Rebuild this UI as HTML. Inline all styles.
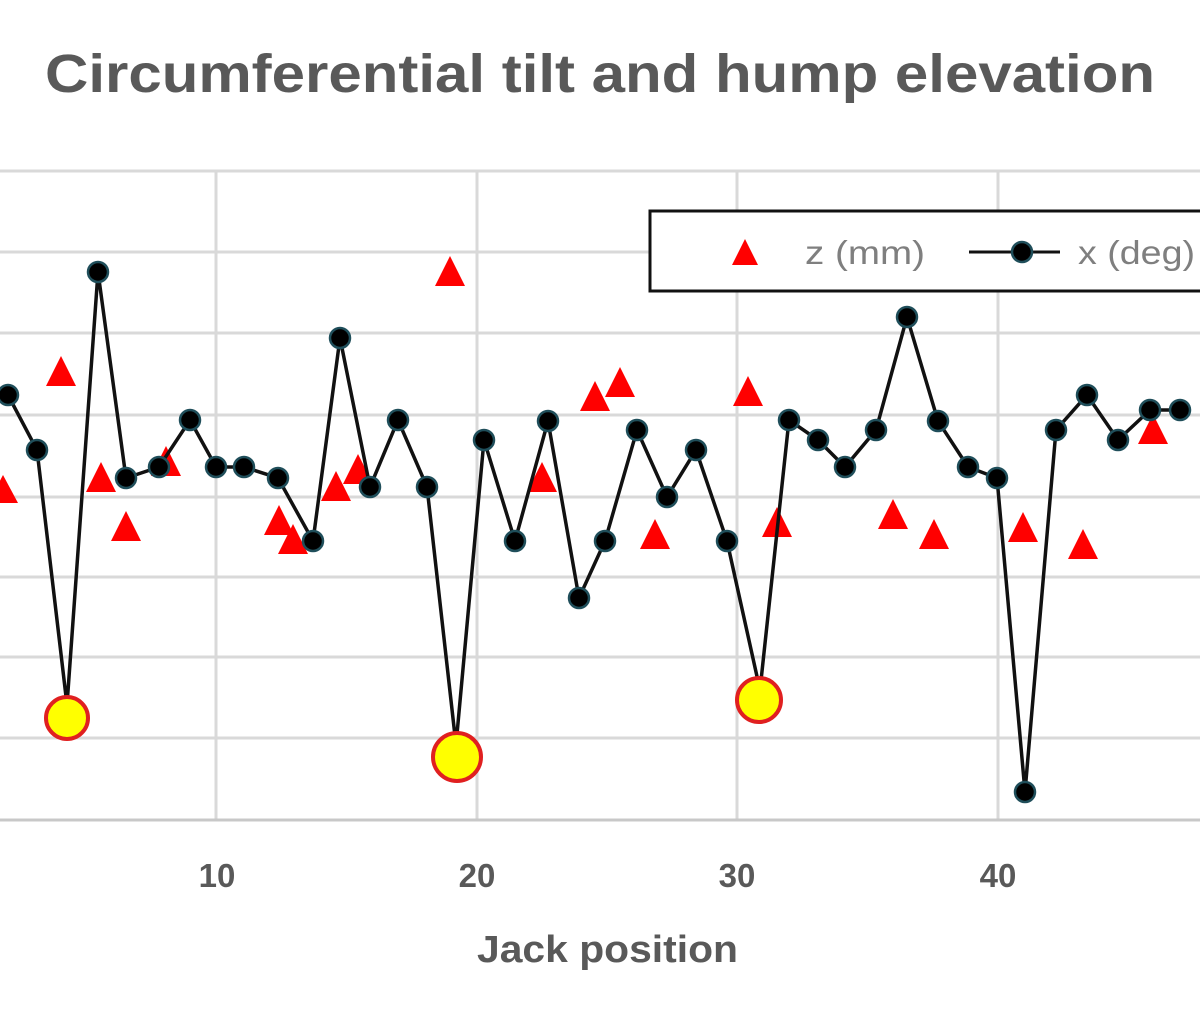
<!DOCTYPE html>
<html><head><style>
html,body{margin:0;padding:0;background:#fff;width:1200px;height:1015px;overflow:hidden}
text{font-family:"Liberation Sans",sans-serif}
</style></head><body>
<svg width="1200" height="1015" viewBox="0 0 1200 1015">
<rect width="1200" height="1015" fill="#fff"/>
<text x="45" y="92" textLength="1110" lengthAdjust="spacingAndGlyphs" font-size="54" font-weight="bold" fill="#595959">Circumferential tilt and hump elevation</text>
<g stroke="#d9d9d9" stroke-width="3">
<line x1="0" y1="171" x2="1200" y2="171"/>
<line x1="0" y1="252" x2="1200" y2="252"/>
<line x1="0" y1="333" x2="1200" y2="333"/>
<line x1="0" y1="415" x2="1200" y2="415"/>
<line x1="0" y1="497" x2="1200" y2="497"/>
<line x1="0" y1="577" x2="1200" y2="577"/>
<line x1="0" y1="657" x2="1200" y2="657"/>
<line x1="0" y1="738" x2="1200" y2="738"/>
<line x1="216" y1="171" x2="216" y2="820"/>
<line x1="477" y1="171" x2="477" y2="820"/>
<line x1="737" y1="171" x2="737" y2="820"/>
<line x1="998" y1="171" x2="998" y2="820"/>
</g>
<line x1="0" y1="820" x2="1200" y2="820" stroke="#c8c8c8" stroke-width="3"/>
<g font-size="33" font-weight="bold" fill="#595959" text-anchor="middle">
<text x="217" y="887">10</text><text x="477" y="887">20</text><text x="737" y="887">30</text><text x="998" y="887">40</text>
</g>
<text x="477" y="962" textLength="261" lengthAdjust="spacingAndGlyphs" font-size="38" font-weight="bold" fill="#595959">Jack position</text>
<g fill="#ff0000">
<polygon points="3,475 -12,503 18,503"/>
<polygon points="61,356 46,386 76,386"/>
<polygon points="101,462 86,492 116,492"/>
<polygon points="126,511 111,541 141,541"/>
<polygon points="166,446 151,476 181,476"/>
<polygon points="279,505 264,535 294,535"/>
<polygon points="293,524 278,554 308,554"/>
<polygon points="336,471 321,501 351,501"/>
<polygon points="358,454 343,484 373,484"/>
<polygon points="450,256 435,286 465,286"/>
<polygon points="542,462 527,492 557,492"/>
<polygon points="595,381 580,411 610,411"/>
<polygon points="620,367 605,397 635,397"/>
<polygon points="655,519 640,549 670,549"/>
<polygon points="748,376 733,406 763,406"/>
<polygon points="777,507 762,537 792,537"/>
<polygon points="893,499 878,529 908,529"/>
<polygon points="934,519 919,549 949,549"/>
<polygon points="1023,512 1008,542 1038,542"/>
<polygon points="1083,529 1068,559 1098,559"/>
<polygon points="1153,414 1138,444 1168,444"/>
</g>
<polyline fill="none" stroke="#111" stroke-width="3.5" points="8,395 37,450 67,705 98,272 126,478 159,467 190,420 216,467 244,467 278,478 313,541 340,338 370,487 398,420 427,487 456,745 484,440 515,541 548,421 579,598 605,541 637,430 667,497 696,450 727,541 760,690 789,420 818,440 845,467 876,430 907,317 938,421 968,467 997,478 1025,792 1056,430 1087,395 1118,440 1150,410 1180,410"/>
<g fill="#000" stroke="#1f4e5a" stroke-width="2.5">
<circle cx="8" cy="395" r="10"/><circle cx="37" cy="450" r="10"/><circle cx="98" cy="272" r="10"/><circle cx="126" cy="478" r="10"/><circle cx="159" cy="467" r="10"/><circle cx="190" cy="420" r="10"/><circle cx="216" cy="467" r="10"/><circle cx="244" cy="467" r="10"/><circle cx="278" cy="478" r="10"/><circle cx="313" cy="541" r="10"/><circle cx="340" cy="338" r="10"/><circle cx="370" cy="487" r="10"/><circle cx="398" cy="420" r="10"/><circle cx="427" cy="487" r="10"/><circle cx="484" cy="440" r="10"/><circle cx="515" cy="541" r="10"/><circle cx="548" cy="421" r="10"/><circle cx="579" cy="598" r="10"/><circle cx="605" cy="541" r="10"/><circle cx="637" cy="430" r="10"/><circle cx="667" cy="497" r="10"/><circle cx="696" cy="450" r="10"/><circle cx="727" cy="541" r="10"/><circle cx="789" cy="420" r="10"/><circle cx="818" cy="440" r="10"/><circle cx="845" cy="467" r="10"/><circle cx="876" cy="430" r="10"/><circle cx="907" cy="317" r="10"/><circle cx="938" cy="421" r="10"/><circle cx="968" cy="467" r="10"/><circle cx="997" cy="478" r="10"/><circle cx="1025" cy="792" r="10"/><circle cx="1056" cy="430" r="10"/><circle cx="1087" cy="395" r="10"/><circle cx="1118" cy="440" r="10"/><circle cx="1150" cy="410" r="10"/><circle cx="1180" cy="410" r="10"/>
</g>
<g fill="#ffff00" stroke="#e02020" stroke-width="4">
<circle cx="67" cy="718" r="21"/><circle cx="457" cy="757" r="24"/><circle cx="759" cy="700" r="22"/>
</g>
<rect x="650" y="211" width="560" height="80" fill="#fff" stroke="#111" stroke-width="3"/>
<polygon points="745,239 732,265 758,265" fill="#ff0000"/>
<text x="805" y="264" textLength="120" lengthAdjust="spacingAndGlyphs" font-size="33" fill="#7f7f7f">z (mm)</text>
<line x1="969" y1="252" x2="1060" y2="252" stroke="#111" stroke-width="3"/>
<circle cx="1022" cy="252" r="10" fill="#000" stroke="#1f4e5a" stroke-width="2.5"/>
<text x="1078" y="264" textLength="117" lengthAdjust="spacingAndGlyphs" font-size="33" fill="#7f7f7f">x (deg)</text>
</svg>
</body></html>
